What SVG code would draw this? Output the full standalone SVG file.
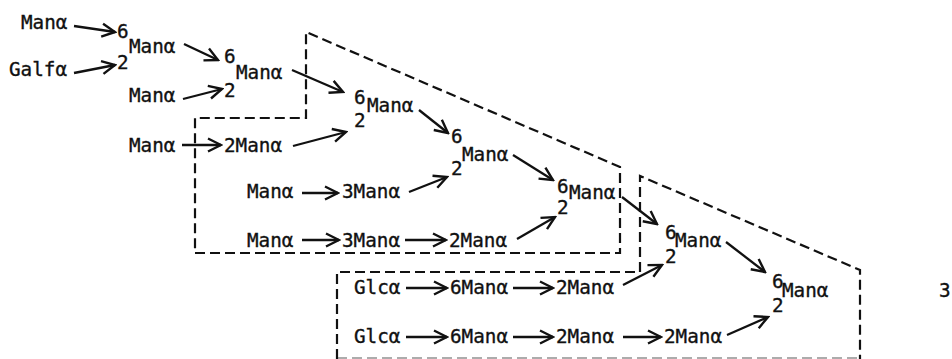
<svg xmlns="http://www.w3.org/2000/svg" width="952" height="359" viewBox="0 0 952 359">
<style>
text{font-family:"DejaVu Sans Mono","Liberation Mono",monospace;font-size:19.3px;fill:#111;stroke:#111;stroke-width:0.35}
.c line{stroke:#111;stroke-width:2.3;fill:none;marker-end:url(#ah)}
.box{stroke:#111;stroke-width:2.2;fill:none;stroke-dasharray:10 5}
</style>
<defs>
<marker id="ah" markerUnits="userSpaceOnUse" markerWidth="18" markerHeight="18" viewBox="-16 -9 18 18" refX="0" refY="0" orient="auto">
<path d="M-13,-6.5 L0,0 L-13,6.5" fill="none" stroke="#111" stroke-width="2.4" stroke-linejoin="miter"/>
</marker>
</defs>
<rect width="952" height="359" fill="#fff"/>
<g id="boxes">
<path class="box" d="M195,253 L620,253 L620,167 L306,32 L306,118 L195,118 Z"/>
<path class="box" d="M337,359 L337,272 L640,272 L640,176 L860,270 L860,359"/>
<line class="box" x1="337" y1="358" x2="860" y2="358" stroke-opacity="0.35"/>
</g>
<g id="n_man1"><text x="21" y="29">Manα</text></g>
<g id="n_galf"><text x="9" y="76">Galfα</text></g>
<g id="n1"><text x="117" y="38">6</text><text x="129" y="53">Manα</text><text x="117" y="69">2</text></g>
<g id="n_man3"><text x="129" y="102">Manα</text></g>
<g id="n2"><text x="224" y="63">6</text><text x="236" y="79">Manα</text><text x="224" y="97">2</text></g>
<g id="n_man4"><text x="129" y="152">Manα</text></g>
<g id="n_2man4"><text x="224" y="152">2Manα</text></g>
<g id="n3"><text x="354" y="104">6</text><text x="367" y="112">Manα</text><text x="354" y="127">2</text></g>
<g id="n_man5"><text x="247" y="198">Manα</text></g>
<g id="n_3man5"><text x="342" y="198">3Manα</text></g>
<g id="n4"><text x="451" y="143">6</text><text x="462" y="161">Manα</text><text x="451" y="175">2</text></g>
<g id="n_man6"><text x="247" y="247">Manα</text></g>
<g id="n_3man6"><text x="342" y="247">3Manα</text></g>
<g id="n_2man6"><text x="449" y="247">2Manα</text></g>
<g id="n5"><text x="557" y="193">6</text><text x="569" y="199">Manα</text><text x="557" y="214">2</text></g>
<g id="n_glc7"><text x="354" y="294">Glcα</text></g>
<g id="n_6man7"><text x="450" y="294">6Manα</text></g>
<g id="n_2man7"><text x="556" y="294">2Manα</text></g>
<g id="n6"><text x="665" y="239">6</text><text x="675" y="247">Manα</text><text x="665" y="263">2</text></g>
<g id="n_glc8"><text x="354" y="343">Glcα</text></g>
<g id="n_6man8"><text x="450" y="343">6Manα</text></g>
<g id="n_2man8"><text x="556" y="343">2Manα</text></g>
<g id="n_2man8b"><text x="664" y="343">2Manα</text></g>
<g id="n7"><text x="772" y="288">6</text><text x="782" y="297">Manα</text><text x="772" y="312">2</text></g>
<g id="label3"><text x="939" y="297">3</text></g>
<g id="connectors" class="c">
<line x1="74" y1="26" x2="115" y2="32"/>
<line x1="74" y1="73" x2="115" y2="65"/>
<line x1="184" y1="44" x2="218" y2="60"/>
<line x1="183" y1="99" x2="222" y2="89"/>
<line x1="182" y1="145" x2="221" y2="145"/>
<line x1="292" y1="70" x2="343" y2="92"/>
<line x1="293" y1="146" x2="346" y2="132"/>
<line x1="419" y1="110" x2="448" y2="133"/>
<line x1="302" y1="193" x2="338" y2="193"/>
<line x1="409" y1="192" x2="447" y2="177"/>
<line x1="302" y1="240" x2="339" y2="240"/>
<line x1="405" y1="240" x2="446" y2="240"/>
<line x1="513" y1="155" x2="553" y2="180"/>
<line x1="517" y1="239" x2="555" y2="217"/>
<line x1="622" y1="197" x2="657" y2="224"/>
<line x1="406" y1="288" x2="447" y2="288"/>
<line x1="513" y1="288" x2="553" y2="288"/>
<line x1="623" y1="285" x2="662" y2="265"/>
<line x1="726" y1="242" x2="765" y2="272"/>
<line x1="406" y1="337" x2="447" y2="337"/>
<line x1="513" y1="337" x2="553" y2="337"/>
<line x1="623" y1="337" x2="661" y2="337"/>
<line x1="727" y1="335" x2="768" y2="317"/>
</g>
</svg>
